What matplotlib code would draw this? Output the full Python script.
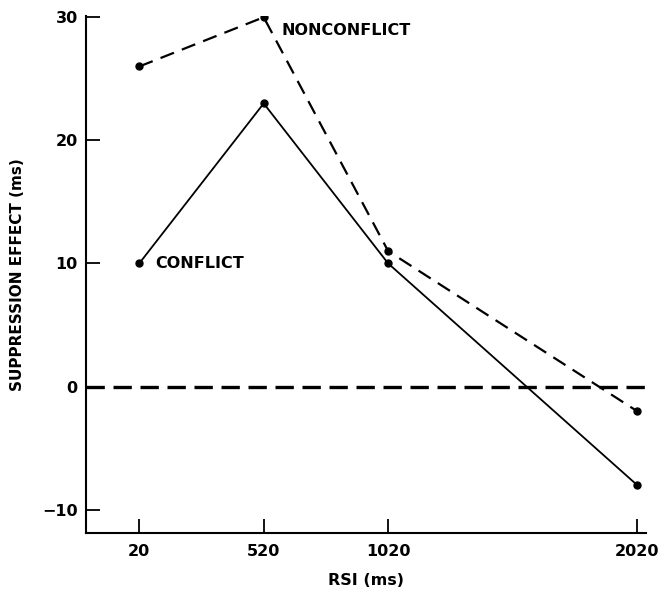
import matplotlib.pyplot as plt

plt.rcParams['font.family'] = 'DejaVu Sans'
plt.rcParams['font.weight'] = 'bold'

rsi = [20, 520, 1020, 2020]
conflict = [10, 23, 10, -8]
nonconflict = [26, 30, 11, -2]

fig = plt.figure(figsize=(6.66, 5.93), dpi=100)
ax = fig.add_axes([0.1291, 0.1012, 0.8409, 0.8718])

ax.axhline(0, color='black', lw=2.4, ls=(0, (5.5, 2.6)))
ax.plot(rsi, conflict, color='black', lw=1.3, marker='o', ms=5)
ax.plot(rsi, nonconflict, color='black', lw=1.6, ls=(0, (6.5, 3.8)), marker='o', ms=5)

ax.text(85, 10, 'CONFLICT', fontsize=11.5, fontweight='bold', va='center', ha='left')
ax.text(590, 28.9, 'NONCONFLICT', fontsize=11.5, fontweight='bold', va='center', ha='left')

ax.set_xlim(-194, 2056)
ax.set_ylim(-11.9, 30.1)
ax.set_xticks(rsi)
ax.set_yticks([-10, 0, 10, 20, 30])
ax.set_yticklabels(['\u221210', '0', '10', '20', '30'])
ax.tick_params(direction='in', length=10, width=1.3, labelsize=11.5)
ax.tick_params(axis='x', pad=8)
ax.tick_params(axis='y', pad=6)
for lab in ax.get_xticklabels() + ax.get_yticklabels():
    lab.set_fontweight('bold')

ax.spines['top'].set_visible(False)
ax.spines['right'].set_visible(False)
ax.spines['left'].set_linewidth(1.5)
ax.spines['bottom'].set_linewidth(1.5)

ax.set_xlabel('RSI (ms)', fontsize=11.5, fontweight='bold', labelpad=10)
ax.set_ylabel('SUPPRESSION EFFECT (ms)', fontsize=11, fontweight='bold', labelpad=12)

fig.savefig('out.png', dpi=100)
